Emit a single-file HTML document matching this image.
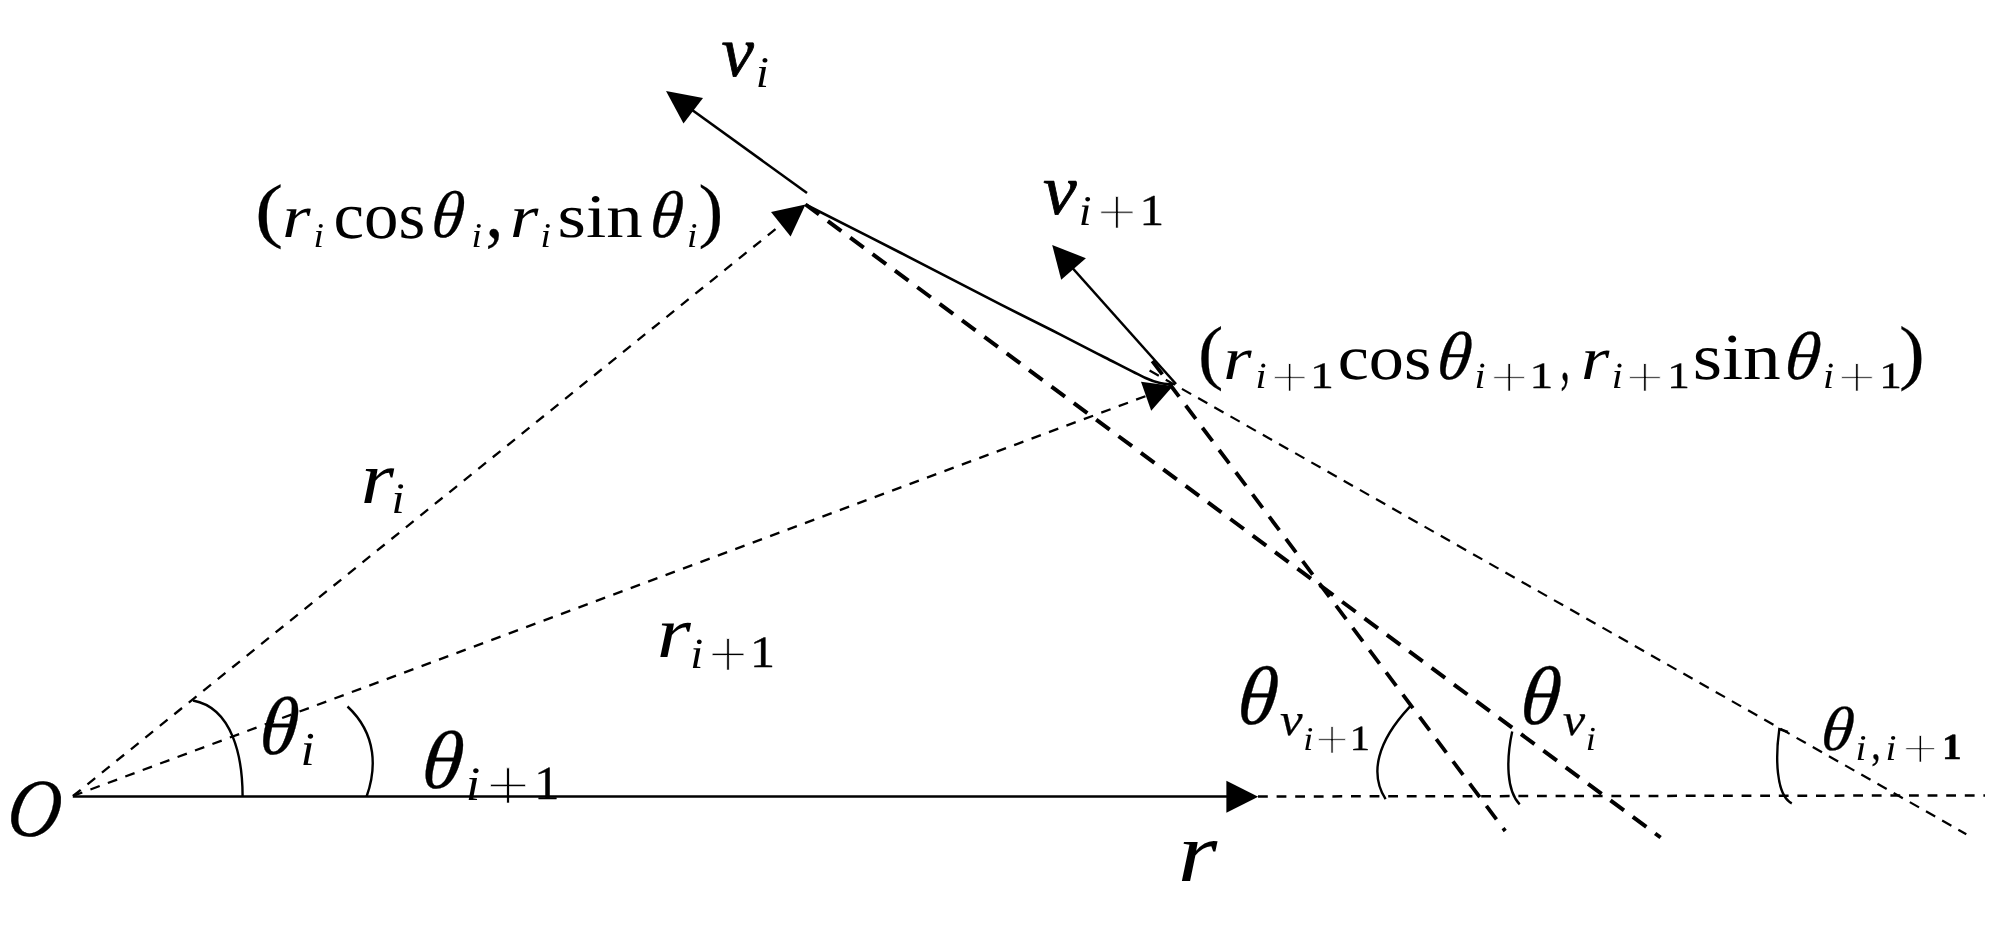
<!DOCTYPE html>
<html lang="en"><head><meta charset="utf-8"><title>Trajectory geometry diagram</title>
<style>
html,body{margin:0;padding:0;background:#fff}
body{width:2000px;height:934px;overflow:hidden}
svg{display:block}
text{font-size:100px;fill:#000;stroke-linejoin:round;text-rendering:geometricPrecision}
svg{will-change:transform;transform:translateZ(0)}
.it{font-family:"Liberation Serif", serif;font-style:italic;font-weight:normal}
.rm{font-family:"Liberation Serif", serif;font-style:normal;font-weight:normal}
.bi{font-family:"Liberation Serif", serif;font-style:italic;font-weight:bold}
.bd{font-family:"Liberation Serif", serif;font-style:normal;font-weight:bold}
.pl{font-family:"DejaVu Sans Light", "DejaVu Sans", sans-serif;font-style:normal;font-weight:200}
</style></head><body>
<svg width="2000" height="934" viewBox="0 0 2000 934">
<rect width="2000" height="934" fill="#fff"/>
<g>
<g aria-label="velocity v_i">
<text class="it" stroke="#000" stroke-width="1.10" transform="matrix(0.7286 0 0.0000 0.7234 721.54 75.78)">v</text>
<text class="it" transform="matrix(0.4735 0 0.0000 0.4385 755.76 87.00)">i</text>
</g>
<g aria-label="point (r_i cos θ_i, r_i sin θ_i)">
<text class="rm" stroke="#000" stroke-width="0.26" transform="matrix(0.8481 0 0.0000 0.7172 254.96 234.09)">(</text>
<text class="it" transform="matrix(0.7277 0 0.0000 0.6064 282.36 236.75)">r</text>
<text class="it" transform="matrix(0.3738 0 0.0000 0.3462 313.46 246.50)">i</text>
<text class="rm" transform="matrix(0.6889 0 0.0000 0.6635 333.54 238.09)">cos</text>
<text class="it" stroke="#000" stroke-width="0.46" transform="matrix(0.6544 0 -0.0688 0.6613 430.07 237.19)">θ</text>
<text class="it" transform="matrix(0.3738 0 0.0000 0.3462 471.58 246.50)">i</text>
<text class="rm" stroke="#000" stroke-width="0.40" transform="matrix(0.7133 0 0.0000 0.7780 485.55 237.43)">,</text>
<text class="it" transform="matrix(0.7277 0 0.0000 0.6064 509.98 236.75)">r</text>
<text class="it" transform="matrix(0.3738 0 0.0000 0.3462 540.46 246.50)">i</text>
<text class="rm" transform="matrix(0.7297 0 0.0000 0.6198 557.58 237.38)">sin</text>
<text class="it" stroke="#000" stroke-width="0.46" transform="matrix(0.6544 0 -0.0688 0.6613 648.82 237.19)">θ</text>
<text class="it" transform="matrix(0.3738 0 0.0000 0.3462 686.96 246.50)">i</text>
<text class="rm" stroke="#000" stroke-width="0.27" transform="matrix(0.7423 0 0.0000 0.7172 698.57 234.09)">)</text>
</g>
<g aria-label="velocity v_{i+1}">
<text class="it" stroke="#000" stroke-width="1.09" transform="matrix(0.7571 0 0.0000 0.7170 1042.99 214.48)">v</text>
<text class="it" transform="matrix(0.4586 0 0.0000 0.4246 1078.79 225.30)">i</text>
<text class="pl" stroke="#fff" stroke-width="1.38" transform="matrix(0.5113 0 0.0000 0.5048 1095.53 228.15)">+</text>
<text class="rm" stroke="#000" stroke-width="0.86" transform="matrix(0.4914 0 0.0000 0.4409 1139.48 225.10)">1</text>
</g>
<g aria-label="point (r_{i+1} cos θ_{i+1}, r_{i+1} sin θ_{i+1})">
<text class="rm" stroke="#000" stroke-width="0.27" transform="matrix(0.7615 0 0.0000 0.7161 1197.95 376.11)">(</text>
<text class="it" transform="matrix(0.7289 0 0.0000 0.6074 1223.25 378.90)">r</text>
<text class="it" transform="matrix(0.3988 0 0.0000 0.3692 1255.57 387.80)">i</text>
<text class="pl" stroke="#fff" stroke-width="1.52" transform="matrix(0.4871 0 0.0000 0.4355 1269.29 391.15)">+</text>
<text class="rm" stroke="#000" stroke-width="0.95" transform="matrix(0.4771 0 0.0000 0.3727 1309.91 387.60)">1</text>
<text class="rm" transform="matrix(0.7024 0 0.0000 0.6333 1337.69 379.27)">cos</text>
<text class="it" stroke="#000" stroke-width="0.44" transform="matrix(0.6911 0 -0.0726 0.6789 1435.61 379.07)">θ</text>
<text class="it" transform="matrix(0.3988 0 0.0000 0.3692 1474.52 387.80)">i</text>
<text class="pl" stroke="#fff" stroke-width="1.52" transform="matrix(0.4871 0 0.0000 0.4355 1488.79 391.15)">+</text>
<text class="rm" stroke="#000" stroke-width="0.95" transform="matrix(0.4743 0 0.0000 0.3727 1529.43 387.60)">1</text>
<text class="rm" stroke="#000" stroke-width="0.58" transform="matrix(0.3733 0 0.0000 0.7140 1560.56 380.39)">,</text>
<text class="it" transform="matrix(0.7289 0 0.0000 0.6074 1580.88 378.90)">r</text>
<text class="it" transform="matrix(0.3988 0 0.0000 0.3692 1611.77 387.80)">i</text>
<text class="pl" stroke="#fff" stroke-width="1.52" transform="matrix(0.4871 0 0.0000 0.4355 1624.54 391.15)">+</text>
<text class="rm" stroke="#000" stroke-width="0.98" transform="matrix(0.4514 0 0.0000 0.3727 1667.24 387.60)">1</text>
<text class="rm" transform="matrix(0.7541 0 0.0000 0.6562 1692.78 379.44)">sin</text>
<text class="it" stroke="#000" stroke-width="0.43" transform="matrix(0.7111 0 -0.0747 0.6789 1783.17 379.07)">θ</text>
<text class="it" transform="matrix(0.3988 0 0.0000 0.3692 1823.12 387.80)">i</text>
<text class="pl" stroke="#fff" stroke-width="1.52" transform="matrix(0.4871 0 0.0000 0.4355 1836.39 391.15)">+</text>
<text class="rm" stroke="#000" stroke-width="0.98" transform="matrix(0.4514 0 0.0000 0.3727 1879.14 387.60)">1</text>
<text class="rm" stroke="#000" stroke-width="0.27" transform="matrix(0.7731 0 0.0000 0.7189 1899.08 376.00)">)</text>
</g>
<g aria-label="radius r_i">
<text class="it" transform="matrix(0.8543 0 0.0000 0.7383 360.68 503.10)">r</text>
<text class="it" transform="matrix(0.4702 0 0.0000 0.4354 391.56 512.90)">i</text>
</g>
<g aria-label="radius r_{i+1}">
<text class="it" transform="matrix(0.8757 0 0.0000 0.7298 656.82 657.40)">r</text>
<text class="it" transform="matrix(0.4652 0 0.0000 0.4308 690.14 667.50)">i</text>
<text class="pl" stroke="#fff" stroke-width="1.39" transform="matrix(0.5081 0 0.0000 0.5016 706.86 670.25)">+</text>
<text class="rm" stroke="#000" stroke-width="0.85" transform="matrix(0.5000 0 0.0000 0.4470 749.90 667.30)">1</text>
</g>
<g aria-label="angle θ_i">
<text class="it" stroke="#000" stroke-width="0.38" transform="matrix(0.7711 0 -0.0810 0.8239 258.05 753.53)">θ</text>
<text class="it" transform="matrix(0.5118 0 0.0000 0.4738 300.47 764.70)">i</text>
</g>
<g aria-label="angle θ_{i+1}">
<text class="it" stroke="#000" stroke-width="0.36" transform="matrix(0.8267 0 -0.0869 0.8239 420.06 788.33)">θ</text>
<text class="it" transform="matrix(0.5201 0 0.0000 0.4815 465.74 800.40)">i</text>
<text class="pl" stroke="#fff" stroke-width="1.25" transform="matrix(0.5629 0 0.0000 0.5613 484.56 803.25)">+</text>
<text class="rm" stroke="#000" stroke-width="0.82" transform="matrix(0.5029 0 0.0000 0.4727 534.37 799.30)">1</text>
</g>
<g aria-label="origin O">
<text class="it" stroke="#000" stroke-width="0.38" transform="matrix(0.7397 0 -0.1040 0.8254 4.93 836.42)">O</text>
</g>
<g aria-label="axis r">
<text class="it" transform="matrix(1.0143 0 0.0000 0.8511 1177.64 880.50)">r</text>
</g>
<g aria-label="angle θ_{v_{i+1}}">
<text class="it" stroke="#000" stroke-width="0.37" transform="matrix(0.8044 0 -0.0846 0.8296 1235.82 724.12)">θ</text>
<text class="it" stroke="#000" stroke-width="0.42" transform="matrix(0.5100 0 0.0000 0.4553 1280.12 735.14)">v</text>
<text class="it" transform="matrix(0.3589 0 0.0000 0.3323 1303.29 749.70)">i</text>
<text class="pl" stroke="#fff" stroke-width="1.64" transform="matrix(0.4306 0 0.0000 0.4242 1314.11 752.75)">+</text>
<text class="rm" stroke="#000" stroke-width="1.05" transform="matrix(0.4057 0 0.0000 0.3545 1349.85 749.50)">1</text>
</g>
<g aria-label="angle θ_{v_i}">
<text class="it" stroke="#000" stroke-width="0.37" transform="matrix(0.8022 0 -0.0843 0.8296 1518.63 724.12)">θ</text>
<text class="it" stroke="#000" stroke-width="0.42" transform="matrix(0.5052 0 0.0000 0.4511 1562.63 735.45)">v</text>
<text class="it" transform="matrix(0.3639 0 0.0000 0.3369 1585.86 749.70)">i</text>
</g>
<g aria-label="angle θ_{i,i+1}">
<text class="it" stroke="#000" stroke-width="0.47" transform="matrix(0.6511 0 -0.0684 0.6239 1819.69 749.93)">θ</text>
<text class="it" transform="matrix(0.3921 0 0.0000 0.3631 1855.57 759.70)">i</text>
<text class="rm" stroke="#000" stroke-width="0.71" transform="matrix(0.3800 0 0.0000 0.4680 1871.13 758.93)">,</text>
<text class="it" transform="matrix(0.3921 0 0.0000 0.3631 1885.52 759.70)">i</text>
<text class="pl" stroke="#fff" stroke-width="1.59" transform="matrix(0.4597 0 0.0000 0.4194 1900.99 761.75)">+</text>
<text class="bd" stroke="#000" stroke-width="1.05" transform="matrix(0.3946 0 0.0000 0.3667 1941.94 759.00)">1</text>
</g>
</g>
<g fill="none" stroke="#000" stroke-linecap="butt">
<!-- axis -->
<line x1="72.8" y1="796.5" x2="1230" y2="796.5" stroke-width="2.7"/>
<line x1="1258" y1="796.5" x2="1985" y2="795.4" stroke-width="2.5" stroke-dasharray="9.8 8.8"/>
<!-- radial dashed lines -->
<line x1="73" y1="796" x2="788" y2="219" stroke-width="2.3" stroke-dasharray="9.9 8.7"/>
<line x1="73" y1="796" x2="1150" y2="394.5" stroke-width="2.3" stroke-dasharray="9.9 8.7"/>
<!-- velocity vectors -->
<line x1="807" y1="193" x2="688" y2="107" stroke-width="2.6"/>
<line x1="1176" y1="384" x2="1068" y2="263" stroke-width="2.6"/>
<!-- trajectory -->
<path d="M805.5 204.5 C821.2 212.5 867.6 235.9 900 252.5 C932.4 269.1 973.3 290.6 1000 304.2 C1026.7 317.8 1042.5 325.4 1060 334.3 C1077.5 343.2 1090.7 350.2 1105 357.5 C1119.3 364.8 1136.4 373.8 1145.6 378 C1152 381 1155.4 382 1160 383 C1164.6 384 1170.8 384.3 1173 384.6" stroke-width="2.6"/>
<!-- tangent / chord extensions -->
<line x1="805.5" y1="204.5" x2="1660.6" y2="837.5" stroke-width="4" stroke-dasharray="16.8 11.02"/>
<line x1="1152.3" y1="361" x2="1505.2" y2="831" stroke-width="3.8" stroke-dasharray="16.8 11.02"/>
<line x1="1149.6" y1="370.5" x2="1966.3" y2="834.2" stroke-width="2.2" stroke-dasharray="10.6 8"/>
<!-- angle arcs -->
<path d="M242.6 796.5 C242.6 758 233 708 193 700.5" stroke-width="2.4"/>
<path d="M366.6 796.5 C376 770 378 735 347.5 706.5" stroke-width="2.4"/>
<path d="M1385.6 799.2 C1369 773 1378 741 1409 707.6 L1411.6 704.4" stroke-width="2.4"/>
<path d="M1519.7 804.3 C1506.5 791 1506 760 1512.2 731.5" stroke-width="2.4"/>
<path d="M1791.8 803.4 C1775.5 795 1775.5 756 1779.3 729.2 L1788 732" stroke-width="2.4"/>
</g>
<g fill="#000" stroke="none">
<polygon points="1226.4,780.7 1258.2,796.7 1226.4,812.8"/>
<polygon points="805.5,204.5 771,212 790.6,236.6"/>
<polygon points="1173,386 1141,381.8 1151.2,410.7"/>
<polygon points="666,91 703,98 683.5,123.5"/>
<polygon points="1052.2,245 1085.9,258.2 1061.2,279.8"/>
</g>

</svg>
</body></html>
